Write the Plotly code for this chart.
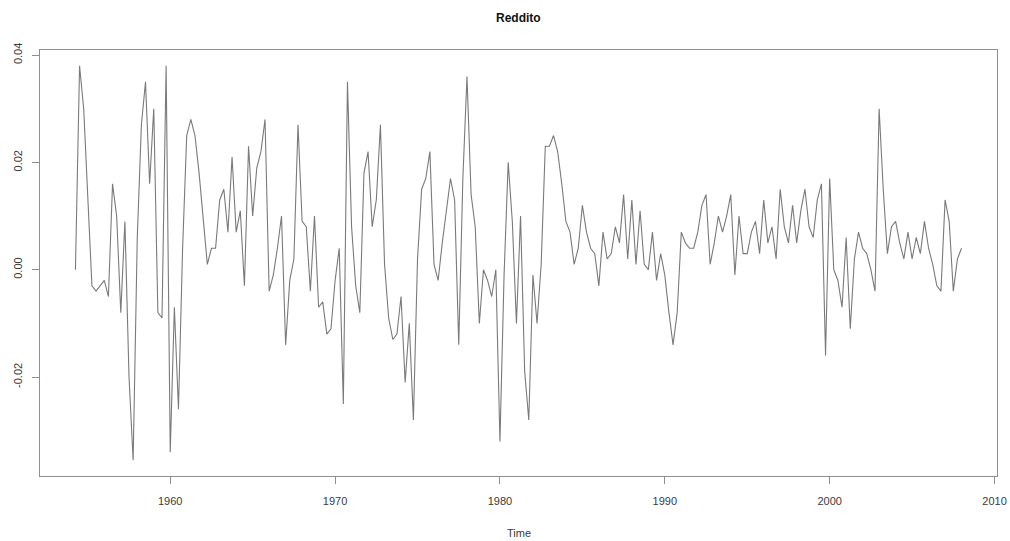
import plotly.graph_objects as go

# Quarterly growth of income, 1954 Q2 - 2008 Q1
start_year = 1954.25
values_1950s = [0.000, 0.038, 0.030, 0.012, -0.003, -0.004, -0.003, -0.002, -0.005, 0.016,
                0.010, -0.008, 0.009, -0.020, -0.0355, 0.006, 0.027, 0.035, 0.016, 0.030,
                -0.008, -0.009, 0.038]
values_1960s = [-0.034, -0.007, -0.026, 0.004, 0.025, 0.028, 0.025, 0.018, 0.009, 0.001,
                0.004, 0.004, 0.013, 0.015, 0.007, 0.021, 0.007, 0.011, -0.003, 0.023,
                0.010, 0.019, 0.022, 0.028, -0.004, -0.001, 0.004, 0.010, -0.014, -0.002,
                0.002, 0.027, 0.009, 0.008, -0.004, 0.010, -0.007, -0.006, -0.012, -0.011]
values_1970s = [-0.002, 0.004, -0.025, 0.035, 0.008, -0.003, -0.008, 0.018, 0.022, 0.008,
                0.013, 0.027, 0.001, -0.009, -0.013, -0.012, -0.005, -0.021, -0.010, -0.028,
                0.002, 0.015, 0.017, 0.022, 0.001, -0.002, 0.005, 0.011, 0.017, 0.013,
                -0.014, 0.017, 0.036, 0.014, 0.008, -0.010, 0.000, -0.002, -0.005, 0.000]
values_1980s = [-0.032, -0.001, 0.020, 0.009, -0.010, 0.010, -0.019, -0.028, -0.001, -0.010,
                0.001, 0.023, 0.023, 0.025, 0.022, 0.016, 0.009, 0.007, 0.001, 0.004,
                0.012, 0.007, 0.004, 0.003, -0.003, 0.007, 0.002, 0.003, 0.008, 0.005,
                0.014, 0.002, 0.013, 0.001, 0.011, 0.001, 0.000, 0.007, -0.002, 0.003]
values_1990s = [-0.001, -0.008, -0.014, -0.008, 0.007, 0.005, 0.004, 0.004, 0.007, 0.012,
                0.014, 0.001, 0.005, 0.010, 0.007, 0.010, 0.014, -0.001, 0.010, 0.003,
                0.003, 0.007, 0.009, 0.003, 0.013, 0.005, 0.008, 0.002, 0.015, 0.008,
                0.005, 0.012, 0.005, 0.011, 0.015, 0.008, 0.006, 0.013, 0.016, -0.016]
values_2000s = [0.017, 0.000, -0.002, -0.007, 0.006, -0.011, 0.002, 0.007, 0.004, 0.003,
                0.000, -0.004, 0.030, 0.015, 0.003, 0.008, 0.009, 0.005, 0.002, 0.007,
                0.002, 0.006, 0.003, 0.009, 0.004, 0.001, -0.003, -0.004, 0.013, 0.009,
                -0.004, 0.002, 0.004]

x_ticks = [1960, 1970, 1980, 1990, 2000, 2010]
x_tick_labels = ["1960", "1970", "1980", "1990", "2000", "2010"]
y_ticks = [-0.02, 0.00, 0.02, 0.04]
y_tick_labels = ["-0.02", "0.00", "0.02", "0.04"]

values = values_1950s + values_1960s + values_1970s + values_1980s + values_1990s + values_2000s
years = [start_year + i / 4 for i in range(len(values))]

# R-style axis limits: data range widened by 4% on each side
def padded(lo, hi, frac=0.04):
    d = (hi - lo) * frac
    return [lo - d, hi + d]

x_range = padded(years[0], years[-1])
y_range = padded(min(values), max(values))

font_family = "Liberation Sans, Arial, sans-serif"
axis_color = "#8f8f8f"
label_color = "#3a3a3a"

fig = go.Figure(
    go.Scatter(
        x=years,
        y=values,
        mode="lines",
        line=dict(color="#7a7a7a", width=1.1),
        hoverinfo="x+y",
    )
)

common_axis = dict(
    showgrid=False,
    zeroline=False,
    showline=True,
    mirror=True,
    linecolor=axis_color,
    linewidth=1,
    ticks="outside",
    ticklen=7,
    tickwidth=1,
    tickcolor=axis_color,
    ticklabeloverflow="allow",
    tickfont=dict(family=font_family, size=11, color=label_color),
)

fig.update_layout(
    width=1010,
    height=541,
    margin=dict(l=40, r=3, t=50, b=65),
    paper_bgcolor="white",
    plot_bgcolor="white",
    showlegend=False,
    xaxis=dict(range=x_range, tickvals=x_ticks, ticktext=x_tick_labels,
               ticklabelstandoff=8, **common_axis),
    yaxis=dict(range=y_range, tickvals=y_ticks, ticktext=y_tick_labels,
               tickangle=-90, ticklabelstandoff=6, **common_axis),
    annotations=[
        dict(text="<b>Reddito</b>", x=0.5, xref="paper", y=1, yref="paper",
             yshift=32, showarrow=False, yanchor="middle",
             font=dict(family=font_family, size=12, color="#111111")),
        dict(text="Time", x=0.5, xref="paper", y=0, yref="paper",
             yshift=-57, showarrow=False, yanchor="middle",
             font=dict(family=font_family, size=11, color=label_color)),
    ],
)

fig.write_html("out.html")
